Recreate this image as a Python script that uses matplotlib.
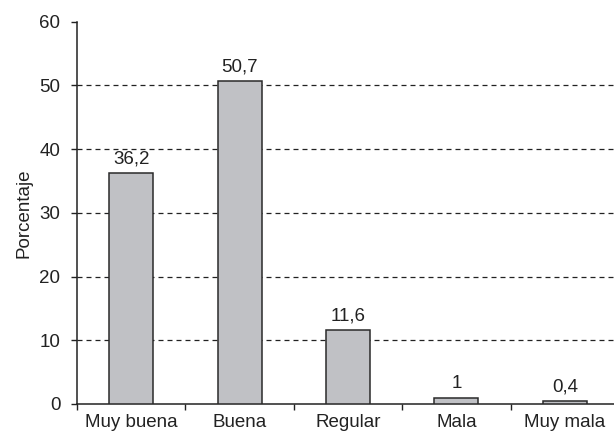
import numpy as np
import matplotlib.pyplot as plt

plt.rcParams['font.family'] = ['Liberation Sans', 'DejaVu Sans']

categorias = ['Muy buena', 'Buena', 'Regular', 'Mala', 'Muy mala']
porcentajes = [36.2, 50.7, 11.6, 1.0, 0.4]
etiquetas = ['36,2', '50,7', '11,6', '1', '0,4']

fig = plt.figure(figsize=(6.14, 4.32), dpi=100)
ax = fig.add_axes([77 / 614, 28 / 432, 542 / 614, 382.5 / 432])

x = np.arange(len(categorias))
ax.bar(x, porcentajes, width=0.405, color='#c0c1c5', edgecolor='#2a2a2a',
       linewidth=1.1, zorder=3)

for xi, v, t in zip(x, porcentajes, etiquetas):
    ax.annotate(t, (xi, v), xytext=(0, 4), textcoords='offset points',
                ha='center', va='bottom', fontsize=13.5, color='#222222')

for y in [10, 20, 30, 40, 50]:
    ax.axhline(y, color='#222222', linewidth=0.9, linestyle=(0, (4, 3.2)), zorder=1)

ax.set_xlim(-0.5, len(categorias) - 0.5)
ax.set_ylim(0, 60)
ax.set_yticks(range(0, 61, 10))
ax.set_xticks(x)
ax.set_xticklabels(categorias)
ax.set_xticks(np.arange(-0.5, len(categorias), 1), minor=True)
ax.tick_params(axis='x', which='major', length=0, pad=7, labelsize=13.5, labelcolor='#222222')
ax.tick_params(axis='x', which='minor', length=4, width=1, direction='out', color='#222222')
ax.tick_params(axis='y', length=4, width=1, direction='out', pad=8, labelsize=13.5,
               labelcolor='#222222', color='#222222')

for s in ['top', 'right']:
    ax.spines[s].set_visible(False)
for s in ['left', 'bottom']:
    ax.spines[s].set_color('#222222')
    ax.spines[s].set_linewidth(1.1)

ax.set_ylabel('Porcentaje', fontsize=13.5, color='#222222', labelpad=5)

fig.savefig('out.png', dpi=100)
